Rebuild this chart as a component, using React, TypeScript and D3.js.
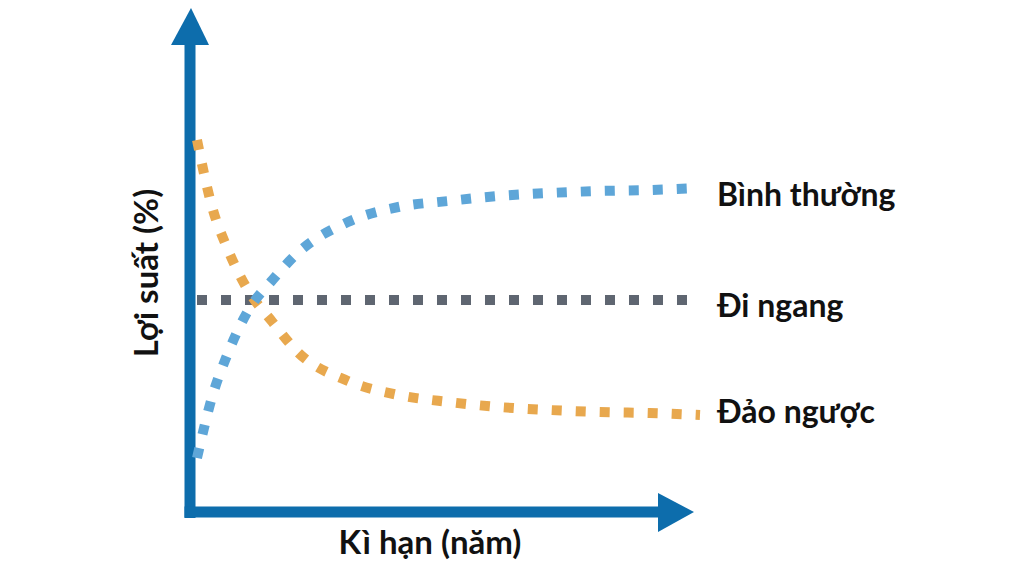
import { useEffect, useRef } from "react";
import * as d3 from "d3";

// kì hạn (năm) dùng chung cho cả ba đường
const maturities = [0, 0.3, 0.6, 1, 1.5, 2, 3, 4, 5, 6, 7, 8, 9, 10];

// lợi suất (%) ước lượng từ hình
const normalYields = [1.08, 2.3, 3.14, 4.0, 4.64, 5.18, 5.8, 6.1, 6.22, 6.32, 6.38, 6.42, 6.44, 6.48];
const flatYields = [4.24, 4.24, 4.24, 4.24, 4.24, 4.24, 4.24, 4.24, 4.24, 4.24, 4.24, 4.24, 4.24, 4.24];
const invertedYields = [7.44, 6.1, 5.28, 4.46, 3.8, 3.2, 2.62, 2.34, 2.2, 2.1, 2.04, 2.0, 1.98, 1.94];

const seriesNames = ["Bình thường", "Đi ngang", "Đảo ngược"];
const xTitle = "Kì hạn (năm)";
const yTitle = "Lợi suất (%)";

const W = 1024;
const H = 576;

const App = () => {
  const ref = useRef<SVGSVGElement>(null);

  useEffect(() => {
    const svg = d3.select(ref.current);
    svg.selectAll("*").remove();

    const x = d3.scaleLinear().domain([0, 10]).range([197, 700]);
    const y = d3.scaleLinear().domain([0, 10]).range([512, 12]);

    const axisColor = "#0d6dac";
    const axisX = 190; // vị trí trục tung
    const axisY = y(0); // vị trí trục hoành
    const font = "Lato, sans-serif";

    // trục tung + mũi tên
    svg
      .append("line")
      .attr("x1", axisX)
      .attr("x2", axisX)
      .attr("y1", axisY + 6)
      .attr("y2", 42)
      .attr("stroke", axisColor)
      .attr("stroke-width", 11);
    svg
      .append("path")
      .attr("d", `M${axisX - 19},45 L${axisX + 19},45 L${axisX + 1},8 Z`)
      .attr("fill", axisColor);

    // trục hoành + mũi tên
    svg
      .append("line")
      .attr("x1", axisX - 5.5)
      .attr("x2", 661)
      .attr("y1", axisY)
      .attr("y2", axisY)
      .attr("stroke", axisColor)
      .attr("stroke-width", 11);
    svg
      .append("path")
      .attr("d", `M658,${axisY - 19} L658,${axisY + 20} L694,${axisY} Z`)
      .attr("fill", axisColor);

    const line = d3
      .line<number>()
      .x((_, i) => x(maturities[i]))
      .y((d) => y(d))
      .curve(d3.curveMonotoneX);

    const series = [
      { values: flatYields, color: "#5f6671", label: seriesNames[1], dy: 17 },
      { values: invertedYields, color: "#e8a84e", label: seriesNames[2], dy: 8 },
      { values: normalYields, color: "#5ea6d8", label: seriesNames[0], dy: 18 },
    ];

    series.forEach((s) => {
      svg
        .append("path")
        .datum(s.values)
        .attr("fill", "none")
        .attr("stroke", s.color)
        .attr("stroke-width", 10)
        .attr("stroke-dasharray", "10 14")
        .attr("d", line);

      svg
        .append("text")
        .attr("x", 717)
        .attr("y", y(s.values[s.values.length - 1]) + s.dy)
        .attr("font-family", font)
        .attr("font-weight", 700)
        .attr("font-size", 32)
        .attr("fill", "#111")
        .text(s.label);
    });

    // tên trục
    svg
      .append("text")
      .attr("x", 430)
      .attr("y", 554)
      .attr("text-anchor", "middle")
      .attr("font-family", font)
      .attr("font-weight", 700)
      .attr("font-size", 33)
      .attr("fill", "#111")
      .text(xTitle);

    svg
      .append("text")
      .attr("transform", `translate(158,273) rotate(-90)`)
      .attr("text-anchor", "middle")
      .attr("font-family", font)
      .attr("font-weight", 700)
      .attr("font-size", 33)
      .attr("fill", "#111")
      .text(yTitle);
  }, []);

  return (
    <svg
      ref={ref}
      width={W}
      height={H}
      style={{ position: "absolute", left: 0, top: 0, background: "#fff" }}
    />
  );
};

export default App;
